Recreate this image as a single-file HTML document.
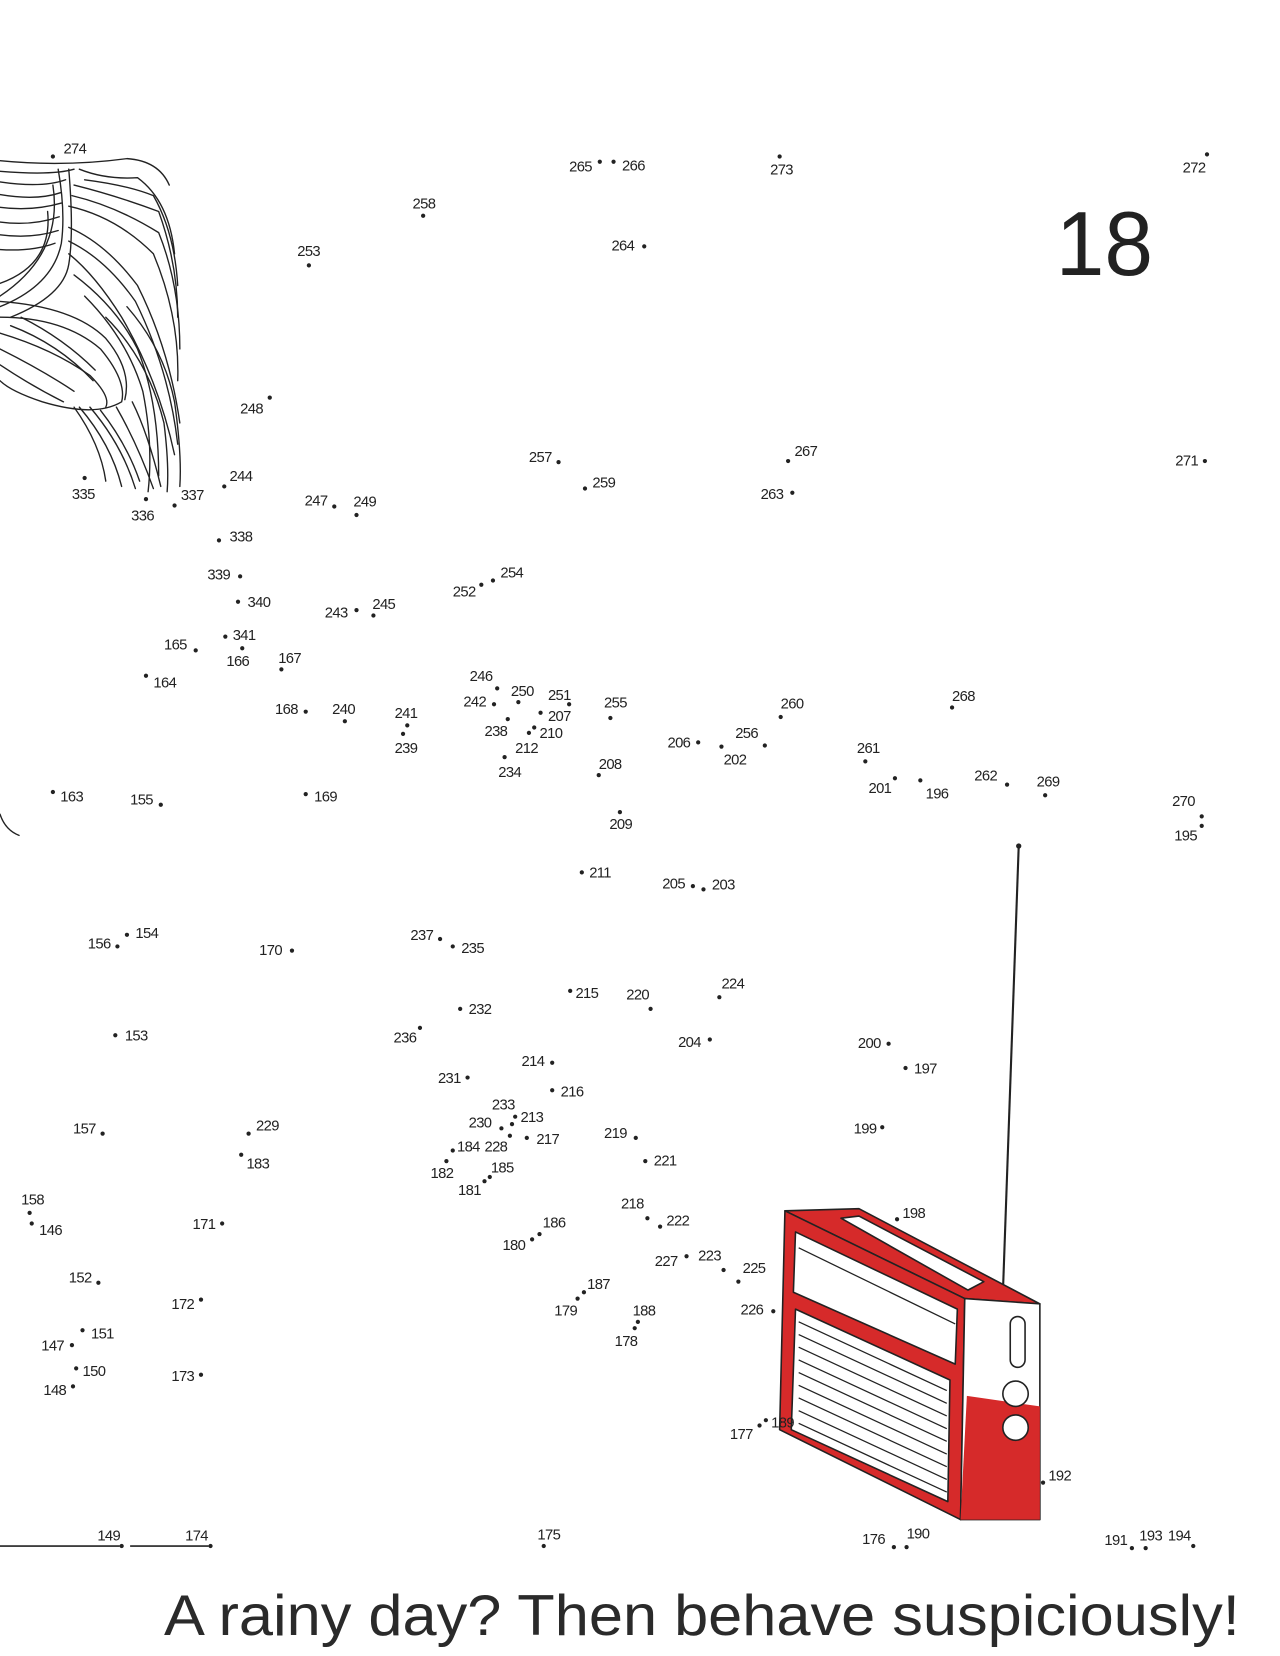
<!DOCTYPE html>
<html><head><meta charset="utf-8"><style>
html,body{margin:0;padding:0;background:#fff;}
svg{display:block}
text{font-family:"Liberation Sans",sans-serif;fill:#222;}
.l{font-size:14px;letter-spacing:-0.6px;}
</style></head><body>
<svg width="1280" height="1656" viewBox="0 0 1210 1566" preserveAspectRatio="none" xmlns="http://www.w3.org/2000/svg">
<rect width="1210" height="1566" fill="#fff"/>
<!-- hair -->
<g fill="none" stroke="#222" stroke-width="1.3" stroke-linecap="round">
<path d="M0 152 Q60 158 120 150 Q150 152 160 175"/>
<path d="M0 162 Q50 166 70 160"/>
<path d="M0 172 Q40 178 62 170"/>
<path d="M0 184 Q35 190 58 182"/>
<path d="M0 196 Q30 200 58 192"/>
<path d="M0 210 Q30 214 56 205"/>
<path d="M0 222 Q30 226 55 218"/>
<path d="M0 236 Q30 238 52 230"/>
<path d="M55 160 Q62 200 58 230 Q50 270 0 290"/>
<path d="M50 175 Q60 240 0 280"/>
<path d="M45 200 Q50 250 0 268"/>
<path d="M65 160 Q70 220 65 250 Q60 280 10 300"/>
<path d="M75 160 Q100 170 130 168 Q160 190 165 240"/>
<path d="M80 170 Q120 175 145 185 Q165 220 168 270"/>
<path d="M70 175 Q110 185 150 200 Q168 250 168 300"/>
<path d="M68 185 Q110 195 150 220 Q170 270 170 330"/>
<path d="M65 195 Q110 205 145 240 Q170 300 168 360"/>
<path d="M65 215 Q100 230 130 270 Q160 330 170 400"/>
<path d="M65 228 Q100 245 128 285 Q160 350 168 420"/>
<path d="M65 240 Q90 260 115 300 Q150 360 165 430"/>
<path d="M0 300 Q60 300 95 330 Q120 360 115 380 Q90 395 40 380 Q10 370 0 360"/>
<path d="M0 285 Q70 290 100 320 Q125 350 118 378"/>
<path d="M0 315 Q50 330 85 355 Q105 375 100 385"/>
<path d="M0 330 Q40 350 70 370"/>
<path d="M0 345 Q30 365 60 380"/>
<path d="M20 300 Q60 320 90 350"/>
<path d="M10 308 Q55 325 88 360"/>
<path d="M70 260 Q110 290 130 330 Q150 380 150 450"/>
<path d="M80 280 Q120 320 135 370 Q145 420 140 465"/>
<path d="M100 300 Q140 340 155 400 Q160 440 158 465"/>
<path d="M120 290 Q155 330 165 380 Q172 430 170 460"/>
<path d="M70 385 Q95 420 100 455"/>
<path d="M75 385 Q105 420 115 460"/>
<path d="M85 385 Q115 420 128 462"/>
<path d="M95 388 Q120 420 132 455"/>
<path d="M110 385 Q130 420 145 462"/>
<path d="M125 380 Q140 410 152 460"/>
<path d="M0 770 Q5 785 18 790"/>
</g>
<!-- big number -->
<text x="998" y="260" textLength="92" lengthAdjust="spacingAndGlyphs" style="font-size:86px;fill:#222">18</text>
<!-- bottom lines -->
<line x1="0" y1="1462" x2="113" y2="1462" stroke="#222" stroke-width="1.5"/>
<line x1="123" y1="1462" x2="197" y2="1462" stroke="#222" stroke-width="1.5"/>
<!-- antenna -->
<line x1="963" y1="800" x2="948" y2="1224" stroke="#222" stroke-width="2"/>
<circle cx="963" cy="800" r="2.5" fill="#222"/>
<!-- radio -->
<g stroke="#222" stroke-width="1.5" stroke-linejoin="round">
<polygon points="742,1145 812,1143 983,1233 912,1228" fill="#d62a2a"/>
<polygon points="795,1152 812,1150 930,1212 915,1220" fill="#fff"/>
<polygon points="742,1145 912,1228 908,1437 737,1352" fill="#d62a2a"/>
<polygon points="912,1228 983,1233 983,1437 908,1437" fill="#fff"/>
<polygon points="914,1320 983,1330 983,1437 908,1437" fill="#d62a2a" stroke="none"/>
<polygon points="752,1165 905,1238 903,1290 750,1222" fill="#fff"/>
<polygon points="752,1238 898,1305 896,1420 748,1352" fill="#fff"/>
<rect x="955" y="1245" width="14" height="48" rx="7" fill="#fff"/>
<circle cx="960" cy="1318" r="12" fill="#fff"/>
<circle cx="960" cy="1350" r="12" fill="#fff"/>
</g>
<g stroke="#222" stroke-width="1.2">
<line x1="755" y1="1250" x2="895" y2="1315"/>
<line x1="755" y1="1262" x2="895" y2="1327"/>
<line x1="755" y1="1274" x2="895" y2="1339"/>
<line x1="755" y1="1286" x2="895" y2="1351"/>
<line x1="755" y1="1298" x2="895" y2="1363"/>
<line x1="755" y1="1310" x2="895" y2="1375"/>
<line x1="755" y1="1322" x2="895" y2="1387"/>
<line x1="755" y1="1334" x2="895" y2="1399"/>
<line x1="755" y1="1346" x2="895" y2="1411"/>
<line x1="755" y1="1180" x2="903" y2="1252"/>
</g>
<!-- dots -->
<g fill="#222">
<circle cx="50" cy="148" r="2"/><circle cx="567" cy="153" r="2"/><circle cx="580" cy="153" r="2"/><circle cx="737" cy="148" r="2"/><circle cx="1141" cy="146" r="2"/>
<circle cx="400" cy="204" r="2"/><circle cx="292" cy="251" r="2"/><circle cx="609" cy="233" r="2"/><circle cx="255" cy="376" r="2"/><circle cx="528" cy="437" r="2"/>
<circle cx="553" cy="462" r="2"/><circle cx="745" cy="436" r="2"/><circle cx="749" cy="466" r="2"/><circle cx="1139" cy="436" r="2"/><circle cx="80" cy="452" r="2"/>
<circle cx="138" cy="472" r="2"/><circle cx="165" cy="478" r="2"/><circle cx="212" cy="460" r="2"/><circle cx="316" cy="479" r="2"/><circle cx="337" cy="487" r="2"/>
<circle cx="207" cy="511" r="2"/><circle cx="227" cy="545" r="2"/><circle cx="225" cy="569" r="2"/><circle cx="213" cy="602" r="2"/><circle cx="229" cy="613" r="2"/>
<circle cx="185" cy="615" r="2"/><circle cx="266" cy="633" r="2"/><circle cx="138" cy="639" r="2"/><circle cx="455" cy="553" r="2"/><circle cx="466" cy="549" r="2"/>
<circle cx="337" cy="577" r="2"/><circle cx="353" cy="582" r="2"/><circle cx="470" cy="651" r="2"/><circle cx="467" cy="666" r="2"/><circle cx="490" cy="664" r="2"/>
<circle cx="538" cy="666" r="2"/><circle cx="511" cy="674" r="2"/><circle cx="480" cy="680" r="2"/><circle cx="500" cy="693" r="2"/><circle cx="505" cy="688" r="2"/>
<circle cx="477" cy="716" r="2"/><circle cx="577" cy="679" r="2"/><circle cx="289" cy="673" r="2"/><circle cx="326" cy="682" r="2"/><circle cx="385" cy="686" r="2"/>
<circle cx="381" cy="694" r="2"/><circle cx="566" cy="733" r="2"/><circle cx="660" cy="702" r="2"/><circle cx="723" cy="705" r="2"/><circle cx="682" cy="706" r="2"/>
<circle cx="738" cy="678" r="2"/><circle cx="900" cy="669" r="2"/><circle cx="818" cy="720" r="2"/><circle cx="846" cy="736" r="2"/><circle cx="870" cy="738" r="2"/>
<circle cx="952" cy="742" r="2"/><circle cx="988" cy="752" r="2"/><circle cx="1136" cy="772" r="2"/><circle cx="1136" cy="781" r="2"/><circle cx="50" cy="749" r="2"/>
<circle cx="152" cy="761" r="2"/><circle cx="289" cy="751" r="2"/><circle cx="586" cy="768" r="2"/><circle cx="550" cy="825" r="2"/><circle cx="655" cy="838" r="2"/>
<circle cx="665" cy="841" r="2"/><circle cx="120" cy="884" r="2"/><circle cx="111" cy="895" r="2"/><circle cx="276" cy="899" r="2"/><circle cx="416" cy="888" r="2"/>
<circle cx="428" cy="895" r="2"/><circle cx="539" cy="937" r="2"/><circle cx="615" cy="954" r="2"/><circle cx="680" cy="943" r="2"/><circle cx="435" cy="954" r="2"/>
<circle cx="109" cy="979" r="2"/><circle cx="397" cy="972" r="2"/><circle cx="671" cy="983" r="2"/><circle cx="840" cy="987" r="2"/><circle cx="856" cy="1010" r="2"/>
<circle cx="522" cy="1005" r="2"/><circle cx="442" cy="1019" r="2"/><circle cx="522" cy="1031" r="2"/><circle cx="487" cy="1056" r="2"/><circle cx="484" cy="1063" r="2"/>
<circle cx="474" cy="1067" r="2"/><circle cx="482" cy="1074" r="2"/><circle cx="498" cy="1076" r="2"/><circle cx="428" cy="1088" r="2"/><circle cx="463" cy="1113" r="2"/>
<circle cx="422" cy="1098" r="2"/><circle cx="458" cy="1117" r="2"/><circle cx="97" cy="1072" r="2"/><circle cx="235" cy="1072" r="2"/><circle cx="228" cy="1092" r="2"/>
<circle cx="601" cy="1076" r="2"/><circle cx="610" cy="1098" r="2"/><circle cx="834" cy="1066" r="2"/><circle cx="28" cy="1147" r="2"/><circle cx="30" cy="1157" r="2"/>
<circle cx="210" cy="1157" r="2"/><circle cx="612" cy="1152" r="2"/><circle cx="624" cy="1160" r="2"/><circle cx="848" cy="1153" r="2"/><circle cx="503" cy="1172" r="2"/>
<circle cx="510" cy="1167" r="2"/><circle cx="649" cy="1188" r="2"/><circle cx="684" cy="1201" r="2"/><circle cx="698" cy="1212" r="2"/><circle cx="552" cy="1222" r="2"/>
<circle cx="546" cy="1228" r="2"/><circle cx="603" cy="1250" r="2"/><circle cx="600" cy="1256" r="2"/><circle cx="731" cy="1240" r="2"/><circle cx="93" cy="1213" r="2"/>
<circle cx="190" cy="1229" r="2"/><circle cx="78" cy="1258" r="2"/><circle cx="68" cy="1272" r="2"/><circle cx="72" cy="1294" r="2"/><circle cx="69" cy="1311" r="2"/>
<circle cx="190" cy="1300" r="2"/><circle cx="718" cy="1348" r="2"/><circle cx="724" cy="1343" r="2"/><circle cx="986" cy="1402" r="2"/><circle cx="115" cy="1462" r="2"/>
<circle cx="199" cy="1462" r="2"/><circle cx="514" cy="1462" r="2"/><circle cx="845" cy="1463" r="2"/><circle cx="857" cy="1463" r="2"/><circle cx="1070" cy="1464" r="2"/>
<circle cx="1083" cy="1464" r="2"/><circle cx="1128" cy="1462" r="2"/>
</g>
<g class="l">
<text x="60" y="145">274</text><text x="538" y="162">265</text><text x="588" y="161">266</text><text x="728" y="165">273</text><text x="1118" y="163">272</text>
<text x="390" y="197">258</text><text x="281" y="242">253</text><text x="578" y="237">264</text><text x="227" y="391">248</text><text x="500" y="437">257</text>
<text x="560" y="461">259</text><text x="751" y="431">267</text><text x="719" y="472">263</text><text x="1111" y="440">271</text><text x="68" y="472">335</text>
<text x="124" y="492">336</text><text x="171" y="473">337</text><text x="217" y="455">244</text><text x="288" y="478">247</text><text x="334" y="479">249</text>
<text x="217" y="512">338</text><text x="196" y="548">339</text><text x="234" y="574">340</text><text x="220" y="605">341</text><text x="214" y="630">166</text>
<text x="155" y="614">165</text><text x="263" y="627">167</text><text x="145" y="650">164</text><text x="428" y="564">252</text><text x="473" y="546">254</text>
<text x="307" y="584">243</text><text x="352" y="576">245</text><text x="444" y="644">246</text><text x="438" y="668">242</text><text x="483" y="658">250</text>
<text x="518" y="662">251</text><text x="518" y="682">207</text><text x="458" y="696">238</text><text x="510" y="698">210</text><text x="487" y="712">212</text>
<text x="471" y="735">234</text><text x="571" y="669">255</text><text x="260" y="675">168</text><text x="314" y="675">240</text><text x="373" y="679">241</text>
<text x="373" y="712">239</text><text x="566" y="727">208</text><text x="631" y="707">206</text><text x="695" y="698">256</text><text x="684" y="723">202</text>
<text x="738" y="670">260</text><text x="900" y="663">268</text><text x="810" y="712">261</text><text x="821" y="750">201</text><text x="875" y="755">196</text>
<text x="921" y="738">262</text><text x="980" y="744">269</text><text x="1108" y="762">270</text><text x="1110" y="795">195</text><text x="57" y="758">163</text>
<text x="123" y="761">155</text><text x="297" y="758">169</text><text x="576" y="784">209</text><text x="557" y="830">211</text><text x="626" y="840">205</text>
<text x="673" y="841">203</text><text x="128" y="887">154</text><text x="83" y="897">156</text><text x="245" y="903">170</text><text x="388" y="889">237</text>
<text x="436" y="901">235</text><text x="544" y="944">215</text><text x="592" y="945">220</text><text x="682" y="935">224</text><text x="443" y="959">232</text>
<text x="118" y="984">153</text><text x="372" y="986">236</text><text x="641" y="990">204</text><text x="811" y="991">200</text><text x="864" y="1015">197</text>
<text x="493" y="1008">214</text><text x="414" y="1024">231</text><text x="530" y="1037">216</text><text x="465" y="1049">233</text><text x="492" y="1061">213</text>
<text x="443" y="1066">230</text><text x="458" y="1089">228</text><text x="507" y="1082">217</text><text x="432" y="1089">184</text><text x="464" y="1109">185</text>
<text x="407" y="1114">182</text><text x="433" y="1130">181</text><text x="69" y="1072">157</text><text x="242" y="1069">229</text><text x="233" y="1105">183</text>
<text x="571" y="1076">219</text><text x="618" y="1102">221</text><text x="807" y="1072">199</text><text x="20" y="1139">158</text><text x="37" y="1168">146</text>
<text x="182" y="1162">171</text><text x="587" y="1143">218</text><text x="630" y="1159">222</text><text x="853" y="1152">198</text><text x="475" y="1182">180</text>
<text x="513" y="1161">186</text><text x="619" y="1197">227</text><text x="660" y="1192">223</text><text x="702" y="1204">225</text><text x="555" y="1219">187</text>
<text x="524" y="1244">179</text><text x="598" y="1244">188</text><text x="581" y="1273">178</text><text x="700" y="1243">226</text><text x="65" y="1213">152</text>
<text x="162" y="1238">172</text><text x="86" y="1266">151</text><text x="39" y="1277">147</text><text x="78" y="1301">150</text><text x="41" y="1319">148</text>
<text x="162" y="1306">173</text><text x="690" y="1361">177</text><text x="729" y="1350">189</text><text x="991" y="1400">192</text><text x="92" y="1457">149</text>
<text x="175" y="1457">174</text><text x="508" y="1456">175</text><text x="815" y="1460">176</text><text x="857" y="1455">190</text><text x="1044" y="1461">191</text>
<text x="1077" y="1457">193</text><text x="1104" y="1457">194</text>
</g>
<text x="155" y="1546" textLength="1017" lengthAdjust="spacingAndGlyphs" style="font-size:54px;fill:#2a2a2a">A rainy day? Then behave suspiciously!</text>
</svg>
</body></html>
